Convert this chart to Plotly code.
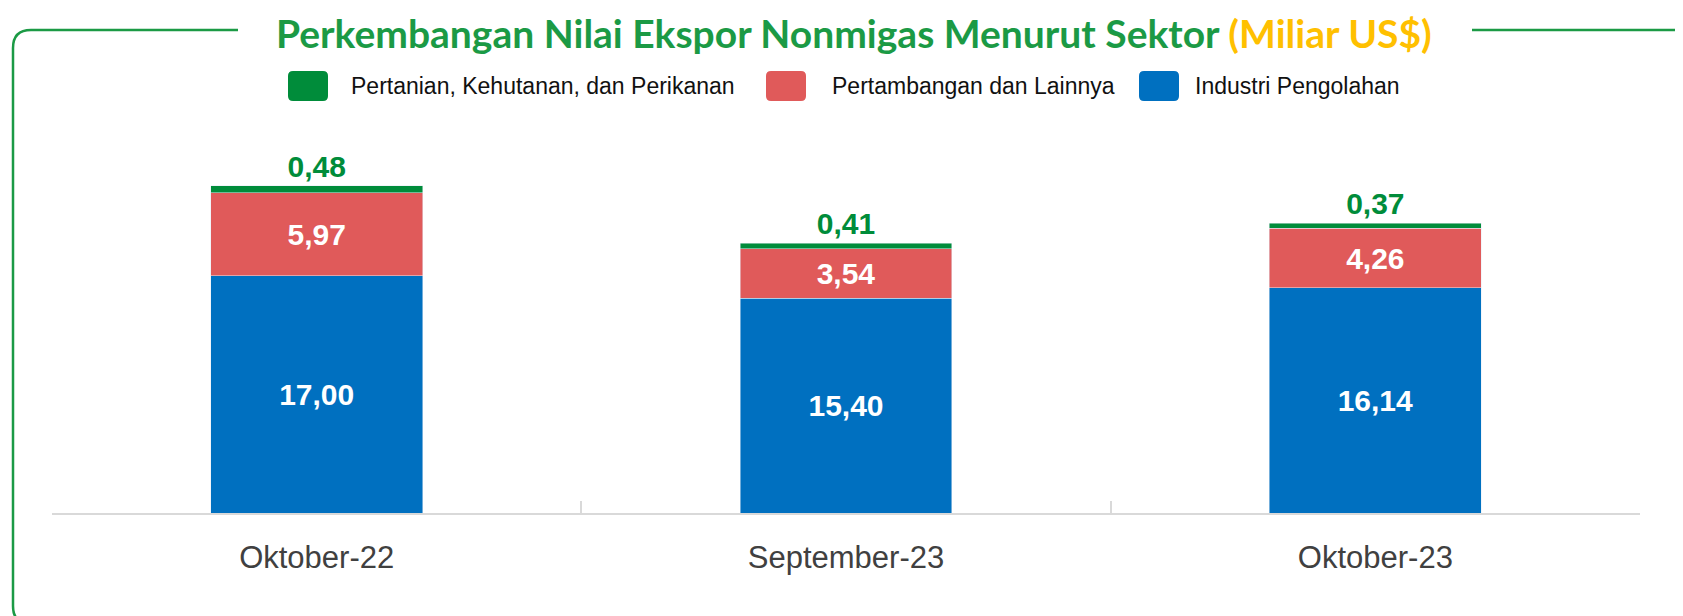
import plotly.graph_objects as go

categories = ["Oktober-22", "September-23", "Oktober-23"]
industri = [17.00, 15.40, 16.14]
pertambangan = [5.97, 3.54, 4.26]
pertanian = [0.48, 0.41, 0.37]
series_names = ["Pertanian, Kehutanan, dan Perikanan", "Pertambangan dan Lainnya", "Industri Pengolahan"]

GREEN = "#008C3A"
RED = "#E05A5A"
BLUE = "#0070C0"
TITLE_GREEN = "#1B9A45"
YELLOW = "#FFC000"

# figure is drawn at an 8px page offset; positions below are in screen pixels
OFF = 8
W, H = 1683, 616
L, R, T, B = 44, 51, 122, 111
PW, PH = W - L - R, H - T - B
SANS = "Liberation Sans Narrow, Arial Narrow, Arial, Liberation Sans, sans-serif"


def fmt(v):
    return f"{v:.2f}".replace(".", ",")


def px(x):
    return (x - OFF - L) / PW


def py(y):
    return (H - B - (y - OFF)) / PH


fig = go.Figure()
label_font = dict(color="white", size=30, family=SANS, weight="bold")
fig.add_trace(go.Bar(x=categories, y=industri, name=series_names[2], marker_color=BLUE,
                     text=[fmt(v) for v in industri], textposition="inside", insidetextanchor="middle",
                     textfont=label_font, constraintext="none", showlegend=False))
fig.add_trace(go.Bar(x=categories, y=pertambangan, name=series_names[1], marker_color=RED,
                     text=[fmt(v) for v in pertambangan], textposition="inside", insidetextanchor="middle",
                     textfont=label_font, constraintext="none", showlegend=False))
fig.add_trace(go.Bar(x=categories, y=pertanian, name=series_names[0], marker_color=GREEN,
                     text=[fmt(v) for v in pertanian], textposition="outside",
                     textfont=dict(color=GREEN, size=30, family=SANS, weight="bold"),
                     constraintext="none", cliponaxis=False, showlegend=False))

shapes = []
annotations = []

# Frame (rounded, green)
r = 18
x0, y0, yb = 13, 30, 624
path = (f"M {px(238)},{py(y0)} L {px(x0 + r)},{py(y0)} "
        f"Q {px(x0)},{py(y0)} {px(x0)},{py(y0 + r)} "
        f"L {px(x0)},{py(yb - r)} Q {px(x0)},{py(yb)} {px(x0 + r)},{py(yb)} L {px(W + 20)},{py(yb)}")
shapes.append(dict(type="path", xref="paper", yref="paper", path=path,
                   line=dict(color=TITLE_GREEN, width=2.5)))
shapes.append(dict(type="line", xref="paper", yref="paper", x0=px(1472), x1=px(W + 20),
                   y0=py(y0), y1=py(y0), line=dict(color=TITLE_GREEN, width=2.5)))

# Title
annotations.append(dict(xref="paper", yref="paper", x=px(854), y=py(33), xanchor="center", yanchor="middle",
                        showarrow=False,
                        text=f"<b><span style='color:{TITLE_GREEN}'>Perkembangan Nilai Ekspor Nonmigas Menurut Sektor</span> "
                             f"<span style='color:{YELLOW}'>(Miliar US$)</span></b>",
                        font=dict(family="Lato, Carlito, sans-serif", size=39)))

# Legend (manual)
legend_items = [(series_names[0], GREEN, 288, 349), (series_names[1], RED, 766, 830), (series_names[2], BLUE, 1139, 1193)]
for name, col, sx, tx in legend_items:
    sw, sh, rr = 40, 30, 5
    ly0, ly1 = 86 - sh / 2, 86 + sh / 2
    p = (f"M {px(sx + rr)},{py(ly0)} L {px(sx + sw - rr)},{py(ly0)} Q {px(sx + sw)},{py(ly0)} {px(sx + sw)},{py(ly0 + rr)} "
         f"L {px(sx + sw)},{py(ly1 - rr)} Q {px(sx + sw)},{py(ly1)} {px(sx + sw - rr)},{py(ly1)} "
         f"L {px(sx + rr)},{py(ly1)} Q {px(sx)},{py(ly1)} {px(sx)},{py(ly1 - rr)} "
         f"L {px(sx)},{py(ly0 + rr)} Q {px(sx)},{py(ly0)} {px(sx + rr)},{py(ly0)} Z")
    shapes.append(dict(type="path", xref="paper", yref="paper", path=p, fillcolor=col, line=dict(width=0)))
    annotations.append(dict(xref="paper", yref="paper", x=px(tx), y=py(86), xanchor="left", yanchor="middle",
                            showarrow=False, text=name, font=dict(family=SANS, size=23, color="#111111")))

fig.update_layout(
    width=W, height=H,
    margin=dict(l=L, r=R, t=T, b=B),
    barmode="stack", bargap=0.6,
    plot_bgcolor="white", paper_bgcolor="white",
    showlegend=False,
    shapes=shapes, annotations=annotations,
    xaxis=dict(showline=True, linecolor="#D9D9D9", linewidth=2, ticks="inside", tickson="boundaries",
               ticklen=12, tickcolor="#D9D9D9", tickwidth=2,
               tickfont=dict(family=SANS, size=31, color="#404040"), ticklabelstandoff=16,
               showgrid=False, fixedrange=True),
    yaxis=dict(visible=False, range=[0, 27.45], showgrid=False, zeroline=False, fixedrange=True),
)

fig.write_html("out.html")
